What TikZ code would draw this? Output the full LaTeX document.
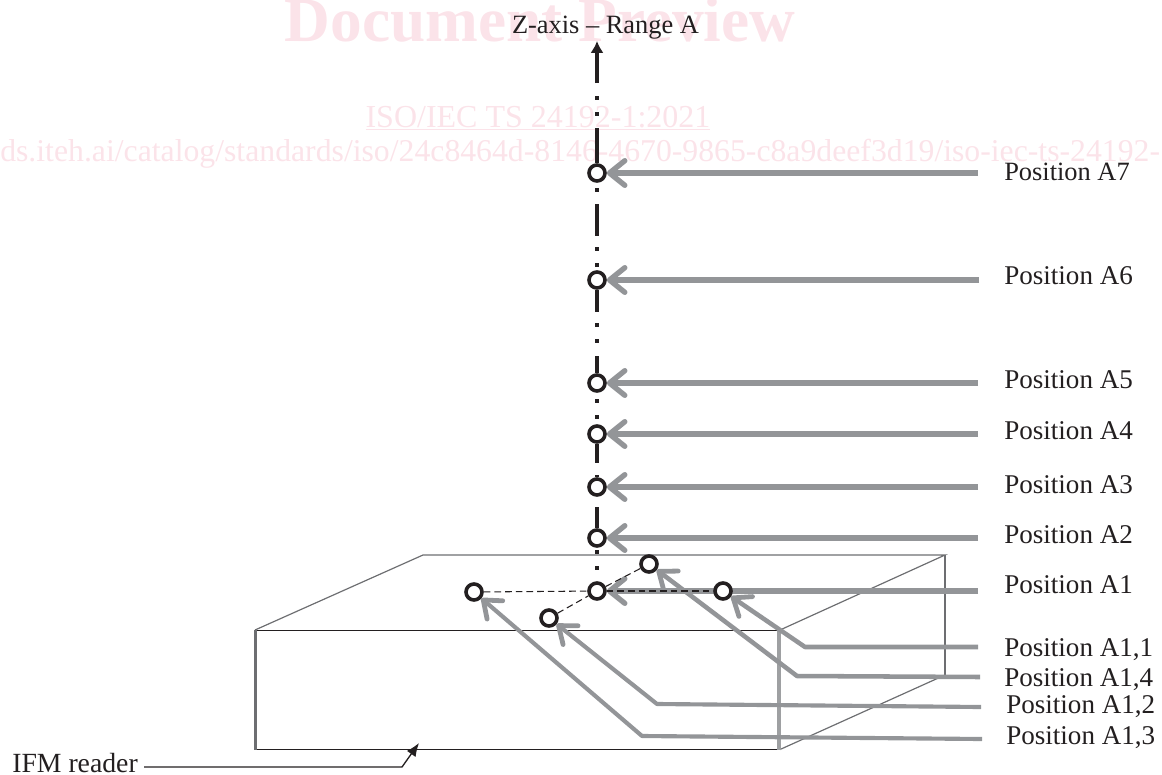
\documentclass[tikz,border=0pt]{standalone}
\usepackage{fontspec}
\setmainfont{Liberation Serif}
\usetikzlibrary{arrows.meta}
\pgfdeclarelayer{under}
\pgfsetlayers{under,main}
\definecolor{wm}{HTML}{FBE3E9}
\definecolor{ink}{HTML}{231F20}
\definecolor{arrowgrey}{HTML}{939598}
\definecolor{boxgrey}{HTML}{6D6E71}
\tikzset{
 x=0.75pt,y=-0.75pt,
 lbl/.style={font=\fontsize{20.3}{22}\selectfont,text=ink,anchor=base west,inner sep=0pt},
 wmtext/.style={text=wm,inner sep=0pt},
 posn/.style={circle,draw=ink,line width=2.7pt,fill=white,minimum size=12pt,inner sep=0pt},
 garrow/.style={draw=arrowgrey,line width=4.4pt,-{Straight Barb[length=11.5pt,width=18.5pt,line width=4pt,round]}},
 garrowthin/.style={draw=arrowgrey,line width=3.4pt,line join=round,-{Straight Barb[length=11.5pt,width=18pt,line width=3.6pt,round]}},
 boxline/.style={draw=boxgrey,line width=0.9pt},
 boxdark/.style={draw=ink,line width=0.65pt},
 axisline/.style={draw=ink,line width=3pt},
 dot/.style={fill=ink,inner sep=0pt,minimum size=3pt},
 thindash/.style={draw=ink,line width=0.8pt,dash pattern=on 5pt off 3pt},
}
\begin{document}
\begin{tikzpicture}
\useasboundingbox (0,0) rectangle (1162,774);
% position nodes
\node[posn] (a7) at (597,173) {};
\node[posn] (a6) at (597,280) {};
\node[posn] (a5) at (597,383) {};
\node[posn] (a4) at (597,434) {};
\node[posn] (a3) at (597,487) {};
\node[posn] (a2) at (597,538) {};
\node[posn] (a1) at (597,591) {};
\node[posn] (a11) at (723,591) {};
\node[posn] (a12) at (549,618) {};
\node[posn] (a13) at (474,592) {};
\node[posn] (a14) at (649,564) {};
% labels
\node[lbl,anchor=base,font=\fontsize{19.8}{22}\selectfont] (top) at (605.5,34) {Z-axis – Range A};
\node[lbl,font=\fontsize{19.8}{22}\selectfont] (l7) at (1004,180) {Position A7};
\node[lbl] (l6) at (1004,284) {Position A6};
\node[lbl] (l5) at (1004,388) {Position A5};
\node[lbl] (l4) at (1004,439) {Position A4};
\node[lbl] (l3) at (1004,493) {Position A3};
\node[lbl] (l2) at (1004,543) {Position A2};
\node[lbl] (l1) at (1004,593) {Position A1};
\node[lbl] (l11) at (1004,656) {Position A1,1};
\node[lbl] (l14) at (1004,686) {Position A1,4};
\node[lbl] (l12) at (1006,713) {Position A1,2};
\node[lbl] (l13) at (1006,744) {Position A1,3};
\node[lbl,font=\fontsize{20.8}{22}\selectfont] (ifm) at (12,772) {IFM reader};
\begin{pgfonlayer}{under}
% watermark
\node[wmtext,font=\bfseries\fontsize{47.5}{49}\selectfont,anchor=base] (wm1) at (540,42) {Document Preview};
\node[wmtext,font=\fontsize{24}{26}\selectfont,anchor=base] (wm2) at (538,127) {\underline{ISO/IEC TS 24192-1:2021}};
\node[wmtext,font=\fontsize{23.8}{26}\selectfont,anchor=base west] (wm3) at (0,161) {ds.iteh.ai/catalog/standards/iso/24c8464d-8146-4670-9865-c8a9deef3d19/iso-iec-ts-24192-};
% box
\draw[boxdark] (255,630) -- (780,630);
\draw[boxdark] (255,749.5) -- (780,749.5);
\draw[draw=boxgrey,line width=1.6pt] (255.5,630) -- (255.5,749.5);
\draw[boxline] (255,630) -- (423,555) -- (945,555) -- (780,630);
\draw[boxline,line width=1.3pt] (945,555) -- (945,675);
\draw[boxline] (945,675) -- (780,749.5);
\draw[draw=arrowgrey!90,line width=2.4pt] (779,630) -- (779,749.5);
% grey arrows
\coordinate (s7) at (978,173);
\coordinate (s6) at (979,280);
\coordinate (s5) at (978,383);
\coordinate (s4) at (978,434);
\coordinate (s3) at (978,487);
\coordinate (s2) at (978,538);
\coordinate (s1) at (978,591);
\draw[garrow] (s7) -- (a7);
\draw[garrow] (s6) -- (a6);
\draw[garrow] (s5) -- (a5);
\draw[garrow] (s4) -- (a4);
\draw[garrow] (s3) -- (a3);
\draw[garrow] (s2) -- (a2);
\draw[garrow] (s1) -- (a1);
\coordinate (e11) at (978,647);
\coordinate (b11) at (805,647);
\coordinate (e14) at (980,677);
\coordinate (b14) at (797,676);
\coordinate (e12) at (981,707);
\coordinate (b12) at (657,704);
\coordinate (e13) at (982,739);
\coordinate (b13) at (642,736);
\draw[garrowthin] (e11) -- (b11) -- (a11);
\draw[garrowthin] (e14) -- (b14) -- (a14);
\draw[garrowthin,line width=3.1pt] (e12) -- (b12) -- (a12);
\draw[garrowthin,line width=3.1pt] (e13) -- (b13) -- (a13);
\end{pgfonlayer}
% axis
\coordinate (axtop) at (597,41);
\coordinate (ax0) at (597,83);
\draw[axisline,-{Latex[length=9pt,width=10pt]}] (ax0) -- (axtop);
\coordinate (ax1) at (597,128);
\draw[axisline] (ax1) -- (a7);
\draw[axisline] (597,204) -- (597,236);
\coordinate (ax2) at (597,312);
\draw[axisline] (a6) -- (ax2);
\coordinate (ax3) at (597,356);
\draw[axisline] (ax3) -- (a5);
\coordinate (ax4) at (597,463);
\draw[axisline] (a4) -- (ax4);
\coordinate (ax5) at (597,475);
\draw[axisline] (ax5) -- (a3);
\coordinate (ax6) at (597,507);
\draw[axisline] (ax6) -- (a2);
\foreach \y in {98,114,190,249,265,325,341,401,417,552,568}{
 \node[dot] at (597,\y) {};
}
% dashed links
\draw[thindash] (a13) -- (a1);
\draw[thindash] (a1) -- (a11);
\draw[thindash] (a12) -- (a1);
\draw[thindash] (a1) -- (a14);
% IFM leader
\coordinate (ifmstart) at (144,767);
\coordinate (ifmbend) at (402,767);
\coordinate (ifmtip) at (419,743);
\draw[draw=ink,line width=1pt,-{Latex[length=10pt,width=8pt]}] (ifmstart) -- (ifmbend) -- (ifmtip);
\end{tikzpicture}
\end{document}
